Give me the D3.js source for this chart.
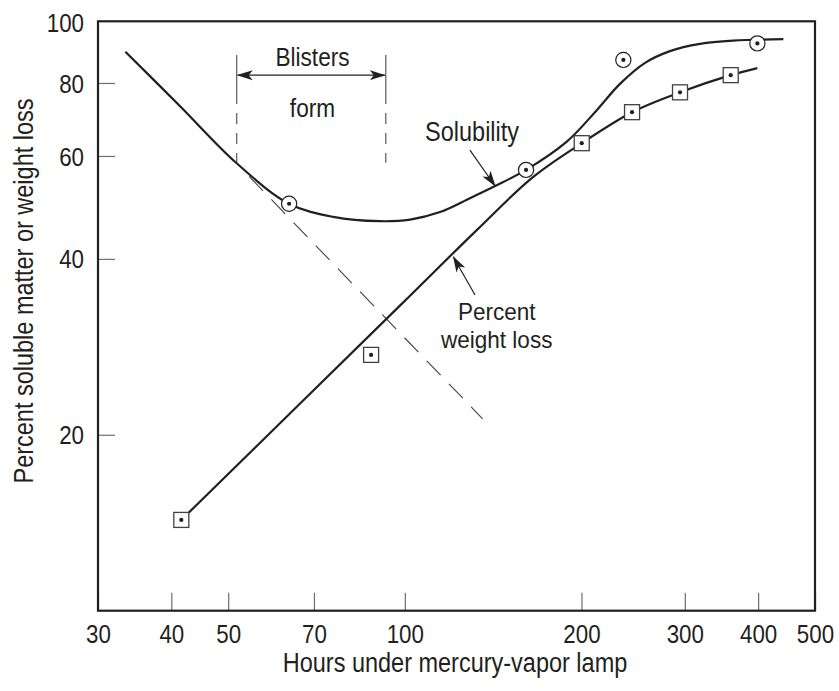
<!DOCTYPE html>
<html><head><meta charset="utf-8">
<script src="https://cdn.jsdelivr.net/npm/d3@7"></script>
<style>
body{margin:0;background:#fff;}
text{font-family:"Liberation Sans",Arial,sans-serif;fill:#231f20;}
</style></head><body>
<svg id="chart" width="839" height="691"></svg>
<script>
// ---- data ----
const xTicks = [30, 40, 50, 70, 100, 200, 300, 400, 500];
const yTicks = [20, 40, 60, 80, 100];
const solubilityHours = [63.5, 160.9, 235.7, 398.8];
const solubilityPct   = [49.7, 56.8, 87.6, 93.5];
const weightLossHours = [41.6, 87.6, 200.2, 243.9, 294.4, 359.2];
const weightLossPct   = [14.3, 27.4, 63.1, 71.3, 77.1, 82.5];
const solubilityCurveHours = [33.4, 41.4, 51.7, 63.5, 75.5, 90.7, 102.1, 114.8, 129.1, 142.5, 160.9, 188.8, 210.9, 232.6, 256.7, 283.1, 318.5, 362.7, 441.6];
const solubilityCurvePct   = [90.5, 73.0, 58.3, 49.7, 47.2, 46.4, 46.7, 48.1, 50.8, 53.3, 56.8, 63.5, 71.3, 79.7, 86.6, 90.7, 93.3, 94.5, 95.1];
const weightLossCurveHours = [41.6, 98.2, 132.6, 165.3, 200.2, 243.9, 294.4, 359.2, 398.8];
const weightLossCurvePct   = [14.3, 33.3, 44.8, 55.2, 63.1, 71.3, 77.1, 82.5, 84.8];
const extrapolationHours = [53.4, 135.7];
const extrapolationPct   = [56.3, 21.3];
const blisterHours = [51.7, 92.8];
const blisterSolidPct  = [89.3, 73.6];
const blisterDashedPct = [71.1, 58.4];
const blisterArrowPct = 82.5;

const svg = d3.select("#chart");
const L = 98, R = 815, T = 21.3, B = 610.7;
const x = d3.scaleLog().domain([30, 500]).range([L, R]);
const y = d3.scaleLog().domain([10, 102]).range([B, T]);
const ink = "#231f20";

// arrow marker
const defs = svg.append("defs");
defs.append("marker").attr("id", "arr").attr("viewBox", "0 0 16 12")
  .attr("refX", 15).attr("refY", 6).attr("markerWidth", 16).attr("markerHeight", 12)
  .attr("markerUnits", "userSpaceOnUse").attr("orient", "auto-start-reverse")
  .append("path").attr("d", "M0,1 L16,6 L0,11 L4,6 Z").attr("fill", ink);

// axes
const xAxis = d3.axisBottom(x).tickValues(xTicks).tickFormat(d3.format("d"))
  .tickSizeInner(-18).tickSizeOuter(0);
const gx = svg.append("g").attr("transform", `translate(0,${B})`).call(xAxis);
const yAxis = d3.axisLeft(y).tickValues(yTicks).tickFormat(d3.format("d"))
  .tickSizeInner(-17).tickSizeOuter(0);
const gy = svg.append("g").attr("transform", `translate(${L},0)`).call(yAxis);
[gx, gy].forEach(g => {
  g.select(".domain").remove();
  g.selectAll(".tick line").attr("stroke", "#6d6e71").attr("stroke-width", 1.2);
  g.selectAll(".tick text").attr("font-size", 26).attr("fill", ink)
    .attr("font-family", '"Liberation Sans",Arial,sans-serif');
});
gx.selectAll(".tick text").attr("y", 0).attr("dy", 0).attr("transform", "translate(0,32.3) scale(0.86,1)");
gy.selectAll(".tick text").attr("x", 0).attr("dy", "0.35em").attr("transform", "translate(-14,0) scale(0.86,1)");
gy.selectAll(".tick").filter(d => d === 100).select("line").remove();
gy.selectAll(".tick").filter(d => d === 100).select("text").attr("transform", "translate(-14,-3.5) scale(0.86,1)");

// frame
svg.append("rect").attr("x", L).attr("y", T).attr("width", R - L).attr("height", B - T)
  .attr("fill", "none").attr("stroke", ink).attr("stroke-width", 2.2);

// text helper (condensed look via horizontal scaling)
const label = (px, py, str, size, sx, rot) => svg.append("text")
  .attr("transform", `translate(${px},${py})${rot ? " rotate(" + rot + ")" : ""} scale(${sx},1)`)
  .attr("text-anchor", "middle").attr("font-size", size).text(str);

// axis titles
label(455, 671.5, "Hours under mercury-vapor lamp", 27, 0.87);
label(33, 291, "Percent soluble matter or weight loss", 27, 0.87, -90);

const line = d3.line().x(d => x(d[0])).y(d => y(d[1])).curve(d3.curveCatmullRom.alpha(0.5));

// extrapolation (dashed)
svg.append("path").datum(d3.zip(extrapolationHours, extrapolationPct))
  .attr("d", d3.line().x(d => x(d[0])).y(d => y(d[1])))
  .attr("fill", "none").attr("stroke", "#414042").attr("stroke-width", 1.1)
  .attr("stroke-dasharray", "20,12").attr("stroke-dashoffset", -6);

// blister markers (vertical lines: solid top, dashed below)
blisterHours.forEach(h => {
  svg.append("line").attr("x1", x(h)).attr("x2", x(h))
    .attr("y1", y(blisterSolidPct[0])).attr("y2", y(blisterSolidPct[1]))
    .attr("stroke", "#58595b").attr("stroke-width", 1.2);
  svg.append("line").attr("x1", x(h)).attr("x2", x(h))
    .attr("y1", y(blisterDashedPct[0])).attr("y2", y(blisterDashedPct[1]))
    .attr("stroke", "#58595b").attr("stroke-width", 1.2).attr("stroke-dasharray", "11,9");
});
svg.append("line").attr("x1", x(blisterHours[0]) + 1).attr("x2", x(blisterHours[1]) - 1)
  .attr("y1", y(blisterArrowPct)).attr("y2", y(blisterArrowPct))
  .attr("stroke", ink).attr("stroke-width", 1.3)
  .attr("marker-start", "url(#arr)").attr("marker-end", "url(#arr)");

// curves
svg.append("path").datum(d3.zip(solubilityCurveHours, solubilityCurvePct)).attr("d", line)
  .attr("fill", "none").attr("stroke", ink).attr("stroke-width", 2.2);
svg.append("path").datum(d3.zip(weightLossCurveHours, weightLossCurvePct)).attr("d", line)
  .attr("fill", "none").attr("stroke", ink).attr("stroke-width", 2.2);

// markers
const solG = svg.append("g").selectAll("g").data(d3.zip(solubilityHours, solubilityPct)).join("g")
  .attr("transform", d => `translate(${x(d[0])},${y(d[1])})`);
solG.append("circle").attr("r", 7.6).attr("fill", "#fff").attr("stroke", ink).attr("stroke-width", 1.2);
solG.append("circle").attr("r", 2.1).attr("fill", ink);
const wlG = svg.append("g").selectAll("g").data(d3.zip(weightLossHours, weightLossPct)).join("g")
  .attr("transform", d => `translate(${x(d[0])},${y(d[1])})`);
wlG.append("rect").attr("x", -7.5).attr("y", -7.5).attr("width", 15).attr("height", 15)
  .attr("fill", "#fff").attr("stroke", "#414042").attr("stroke-width", 1.3);
wlG.append("circle").attr("r", 2.1).attr("fill", ink);

// annotations
const ann = (h, p, t, sz, sx) => label(x(h), y(p), t, sz || 27, sx || 0.87);
ann(69.6, 85.6, "Blisters", 26);
ann(69.6, 70.0, "form", 26);
ann(130.2, 63.6, "Solubility");
ann(143.4, 31.4, "Percent", 24.5, 0.92);
ann(143.4, 28.2, "weight loss", 24.5, 0.92);
svg.append("line").attr("x1", x(129.1)).attr("y1", y(61.4)).attr("x2", x(142.5)).attr("y2", y(53.3))
  .attr("stroke", ink).attr("stroke-width", 1.2).attr("marker-end", "url(#arr)");
svg.append("line").attr("x1", x(131.7)).attr("y1", y(34.7)).attr("x2", x(121.0)).attr("y2", y(40.3))
  .attr("stroke", ink).attr("stroke-width", 1.2).attr("marker-end", "url(#arr)");
</script></body></html>
